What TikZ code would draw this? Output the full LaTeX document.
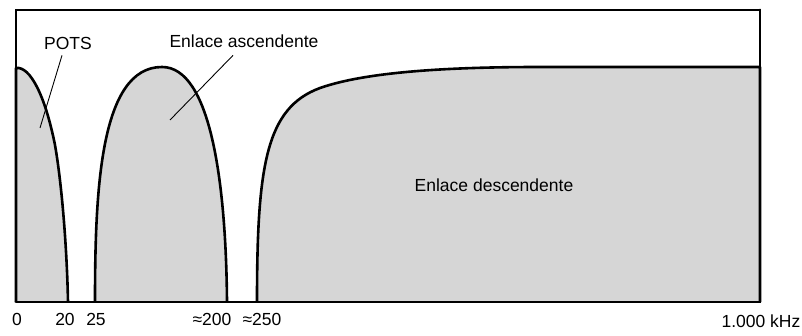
\documentclass[tikz,border=0pt]{standalone}
\usepackage{fontspec}
\setmainfont{Liberation Sans}
\usetikzlibrary{positioning}

\begin{document}
\begin{tikzpicture}[
  x=1pt, y=-1pt,
  band/.style={draw=black, line width=2.6pt, fill=black!16, line join=round},
  frame/.style={draw=black, line width=1.6pt},
  edge/.style={draw=black, line width=2.8pt, line cap=round},
  leader/.style={draw=black, line width=0.9pt},
  lbl/.style={font=\fontsize{17.5}{21}\selectfont, inner sep=0pt, anchor=base},
  tick/.style={lbl}
]
  \useasboundingbox (0,0) rectangle (802,336);

  % frequency bands
  \path[band] (16,302) -- (16,68) .. controls (30,66) and (45,95) .. (55,145)
    .. controls (62,185) and (67,250) .. (68,302);
  \path[band] (95,302) .. controls (95,190) and (100,67) .. (162,67)
    .. controls (210,67) and (226,180) .. (227,302);
  \path[band] (257,302) .. controls (257,165) and (266,108) .. (320,88)
    .. controls (360,74) and (430,67) .. (540,67) -- (760,67) -- (760,302);

  % frame
  \draw[frame] (16,302) -- (16,10) -- (760,10) -- (760,302);
  \draw[edge] (16,302) -- (760,302) -- (760,10);

  % labels
  \node[lbl] (pots) at (68,50) {POTS};
  \node[lbl] (up) at (244,48) {Enlace ascendente};
  \node[lbl] (down) at (494,192) {Enlace descendente};

  \coordinate (potstip) at (40,128);
  \coordinate (uptip) at (170,120);
  \draw[leader] ([shift={(-6,5)}]pots.south) -- (potstip);
  \draw[leader] ([shift={(-11,7)}]up.south) -- (uptip);

  % axis values
  \node[tick] (f0) at (17,325) {0};
  \node[tick] (f20) at (65,325) {20};
  \node[tick] (f25) at (96,325) {25};
  \node[tick] (f200) at (212,325) {≈200};
  \node[tick] (f250) at (262,325) {≈250};
  \node[tick] (fmax) at (761,327) {1.000 kHz};
\end{tikzpicture}
\end{document}
